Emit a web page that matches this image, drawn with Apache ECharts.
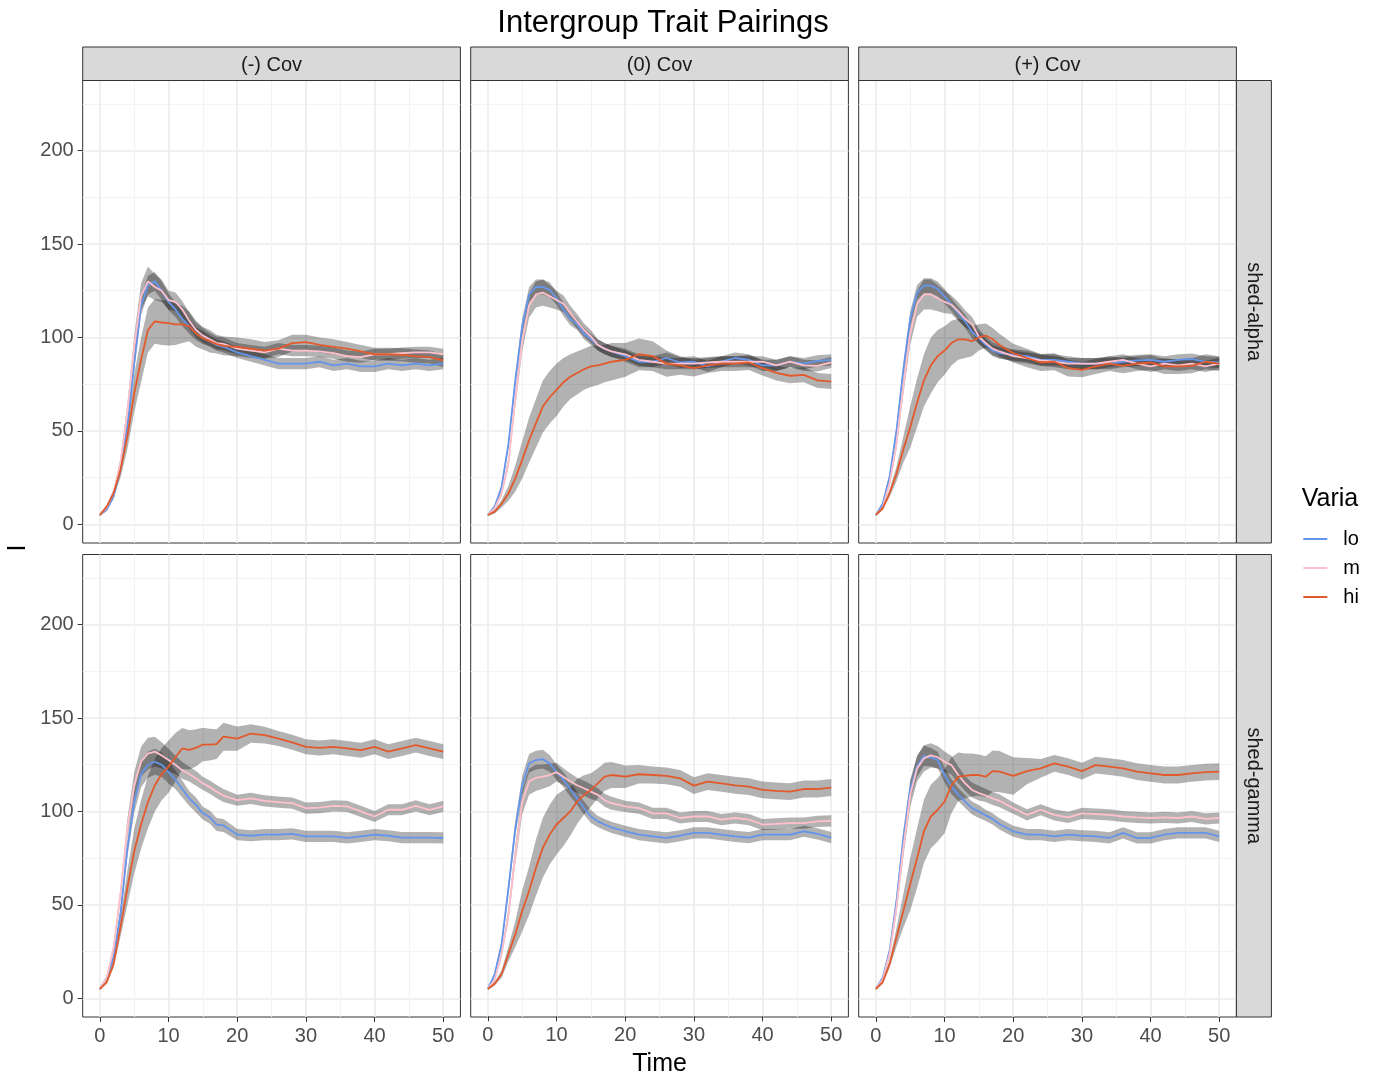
<!DOCTYPE html>
<html>
<head>
<meta charset="utf-8">
<script src="https://cdn.jsdelivr.net/npm/echarts@6/dist/echarts.min.js"></script>
<style>
  html, body { margin: 0; padding: 0; background: #fff; }
  #chart { width: 1374px; height: 1073px; }
</style>
</head>
<body>
<div id="chart"></div>
<script>
// time steps (every step early, every second step later)
const times = [0,1,2,3,4,5,6,7,8,9,10,11,12,13,14,15,16,17,18,20,22,24,26,28,30,32,34,36,38,40,42,44,46,48,50];

const colLabels = ["(-) Cov", "(0) Cov", "(+) Cov"];
const rowLabels = ["shed-alpha", "shed-gamma"];
const levels = ["lo", "m", "hi"];
const xTicks = [0, 10, 20, 30, 40, 50];
const yTicks = [0, 50, 100, 150, 200];

// shed-alpha, (-) Cov
const negAlphaLo  = [5,8,15,29,52,86,117,128,130,125,119,115,110,106,102,100,98,96,95, 92,90,88,86,86,86,87,85,86,84.5,84.5,86,85,86,85,86];
const negAlphaMed = [5,9,17,33,60,95,122,130,127,125,120,119,115,109,104,101,99,97,96.6, 94,93,92,94,93,93,92.5,91.6,90,89.5,91,91,91.6,92,92,91];
const negAlphaHi  = [5,9.5,16.6,29,47,70,88,104,108.6,108,107.7,107,107,106,102,99.6,98,96.4,95.5, 95,94,93,94,97,97.5,96,95,94,92.5,91,91,90.7,90,89.5,87.7];
const negAlphaLoSe  = [0.5,1,1.5,2,3,4,5,5,5,5,4.5,4,4,4,3.5,3.5,3,3,3, 3,3,3,3,3,3,3,3,3,3,3,3,3,3,3,3];
const negAlphaMedSe = [0.5,1,1.5,2.5,4,6,7,8,7,6,5,5,4.5,4.5,4,4,3.5,3.5,3.5, 3,3,3,3,3,3,3,3,3,3,3,3,3,3,3,3];
const negAlphaHiSe  = [0.5,1,2,4,7,10,12,12,12,12,12,11,10,8,7,6,6,5,5, 5,5,4.5,4.5,4.5,4,4,4,3.5,3.5,3.5,3.5,3.5,3.5,3.5,3.5];

// shed-alpha, (0) Cov
const zeroAlphaLo  = [5,9.5,20,43,77,106,123,127,127,125.5,121,115,110,107,102,99,96,94,92.5, 90,87,87,89,86.6,87,84.5,87,89,88,85,85,87,86,87.5,88];
const zeroAlphaMed = [5,8.5,16.6,33,67,98,117,123,124,122,120,118,113,108.6,104,100.5,96,94,92.5, 91,88,87,86,86,86,86.6,87,87,87,87,85,87,85,84.8,86.6];
const zeroAlphaHi  = [5,6.8,11,16.6,24.6,34.5,45,54,63,68,72,76,79,81,83,84.5,85,86,87, 88,91,90,86,85,83.6,85,86,86,86.6,83.6,81,79.5,80,77,76.4];
const zeroAlphaLoSe  = [0.5,1,1.5,2,3,4,4,4,4,4,3.5,3.5,3.5,3,3,3,3,3,3, 3,3,3,3,3,3,3,3,3,3,3,3,3,3,3,3];
const zeroAlphaMedSe = [0.5,1,1.5,2.5,4,5.5,6.5,7,7,6,5,4.5,4,4,3.5,3.5,3,3,3, 3,3,3,3,3,3,3,3,3,3,3,3,3,3,3,3];
const zeroAlphaHiSe  = [0.5,1,2,4,7,10,12,13,14,14,14,13,12,11.5,11,11,10.5,10,10, 9,8.5,8,7,5,4.5,4,4,4,4,4,4,4,4,4,4];

// shed-alpha, (+) Cov
const posAlphaLo  = [5,11,25.5,50,82.7,110,124,127.7,127.7,126,122,117.5,113,108.6,103,99.6,96,93,91.6, 90.7,90,88,88,87,86,86,86,87,87.7,88,87,88,88.4,87,86.6];
const posAlphaMed = [5,9,22,43,74,102,118,123,123,121,119,117.5,114,110,107,100.5,97,94,92.5, 90,89,87.7,87,86,86,86,87,88,86,84.5,86,85,86,84.5,86];
const posAlphaHi  = [5,8.6,16.6,27,40,52,65,77,85,90,93,97,99,99,98,100,101,99,96, 91.6,89,86.6,87,83.6,82.7,84.5,86,84.8,86,86.6,84.5,84.5,84.8,87,86];
const posAlphaLoSe  = [0.5,1,1.5,2.5,3.5,4,4,4,4,4,4,3.5,3.5,3.5,3.5,3,3,3,3, 3,3,3,3,3,3,3,3,3,3,3,3,3,3,3,3];
const posAlphaMedSe = [0.5,1,1.5,3,4.5,6,7,8,8,7,6,5,5,4.5,4,4,3.5,3.5,3.5, 3,3,3,3,3,3,3,3,3,3,3,3,3,3,3,3];
const posAlphaHiSe  = [0.5,1,2,4,7,11,13,14,15,14,13,12,11,10,8,7,6.5,6,6, 5,5,4.5,4.5,4.5,4,4,4,4,4,4,4,4,4,4,4];

// shed-gamma, (-) Cov
const negGammaLo  = [5,11,22,45,80,105,120,125,126.6,125,121,117,112,107,103.5,99,97,93,92.5, 87.6,87,87.6,87.6,88,86.7,86.7,86.7,85.8,86.7,87.6,87,86,86,86,85.8];
const negGammaMed = [5,11,27,55.7,91,114,126.6,131,132,130,127.5,125,122,120,117.7,115,113,110.6,108.5, 106,107,105.7,105,104.4,101.8,102,103,102.7,100,97.3,100.9,100.9,103,100.9,102.7];
const negGammaHi  = [5,8.7,18.4,38,59,78.7,93,105,114,120,124,129,133.7,133,134,135.8,135.8,136,140, 139,141.7,140.8,139,137,134.6,134,134.6,133.7,132.8,134.6,132,133.7,135.5,133.7,132];
const negGammaLoSe  = [0.5,1,2,3,4.5,6,7,7,7,6.5,6,5,4.5,4,4,3.5,3.5,3.5,3.5, 3,3,3,3,3,3,3,3,3,3,3,3,3,3,3,3];
const negGammaMedSe = [0.5,1,2,3.5,5,7,8,8.5,8,7,6,5,4.5,4,4,3.5,3.5,3.5,3.5, 3,3,3,3,3,3,3,3,3,3,3,3,3,3,3,3];
const negGammaHiSe  = [0.5,1,2,5,9,12,13,14,14,14,14,13,11,10.5,10,9,8.5,8,7.5, 6.5,5,4.5,4,4,4,4,4,4,4,4,4,4,4,4,4];

// shed-gamma, (0) Cov
const zeroGammaLo  = [5,13,29,59,91,114,125.7,127.5,128,125.7,121,117,112,107,101.8,97.3,94.7,93,91.5, 89.4,87.6,86.7,85.8,87,88.5,88.5,87.6,86.7,86,87.6,87.6,87.6,89.4,88,86];
const zeroGammaMed = [5,10,23.8,45,77,105,116,118,118.6,119.5,121,118.6,116,114,112.4,110.6,108.9,106,104.4, 102.7,101.8,99,99,96.5,97.3,97.3,95.6,96.5,95.6,93,93.3,93.8,93.8,94.7,95];
const zeroGammaHi  = [5,7.8,13,23.8,34.4,46.8,57.4,69.9,80.5,87.6,93,96.5,100,105.3,108.9,111.5,115,118.6,119.5, 118.6,119.9,119.5,119,117.7,113.8,116,115,114,113.3,111.5,111,110.6,112,112,112.8];
const zeroGammaLoSe  = [0.5,1,2,3,4,5,5,5,5,4.5,4,4,4,3.5,3.5,3.5,3,3,3, 3,3,3,3,3,3,3,3,3,3,3,3,3,3,3,3];
const zeroGammaMedSe = [0.5,1,2,3.5,5,6.5,7,7,6.5,6,5,4.5,4.5,4,4,4,3.5,3.5,3.5, 3,3,3,3,3,3,3,3,3,3,3,3,3,3,3,3];
const zeroGammaHiSe  = [0.5,1,2,4,7,11,13,15,16,16,16,15,13,12,10.5,9,8,7.5,7, 6,5,4.5,4.5,4.5,4.5,4.5,4.5,4.5,4.5,4.5,4.5,4.5,4.5,4.5,4.5];

// shed-gamma, (+) Cov
const posGammaLo  = [5,11,25.5,52,85.8,112,124,129.8,129,127.5,119.5,113.3,109,105.3,101.8,100,97.9,96,93.3, 89.4,87.6,87.6,86.7,87.6,87,86.7,85.8,88.5,85.8,85.8,87.6,88.5,88.5,88.5,86.7];
const posGammaMed = [5,10,23.8,48.6,80.5,108.9,123,128.4,130,129,126.6,124.8,119.5,115,111.5,109.8,108.5,107,105.7, 101.8,98.2,100.9,98.2,96.8,99,98.6,98.2,97.3,96.8,96.5,96.8,96.5,97.3,96,96.5];
const posGammaHi  = [5,8.7,18.4,32.6,46.8,61,75,89.4,97.3,100.9,105.3,114,118.6,119,119.5,119.5,118.6,121.6,121.3, 119,121.6,123,125.7,124,121.6,124.8,124,123,121.3,120.4,119.5,119.5,120.4,121,121.3];
const posGammaLoSe  = [0.5,1,2,3,4,5,5.5,5.5,5,4.5,4,4,3.5,3.5,3.5,3.5,3,3,3, 3,3,3,3,3,3,3,3,3,3,3,3,3,3,3,3];
const posGammaMedSe = [0.5,1,2,3.5,5,6.5,7,7,6.5,6,5.5,5,4.5,4,4,4,3.5,3.5,3.5, 3,3,3,3,3,3,3,3,3,3,3,3,3,3,3,3];
const posGammaHiSe  = [0.5,1,2,5,9,14,16,17,17,17,17,15,13,12,11.5,11,11,11,11, 10,7,5,4.5,4.5,4.5,4.5,4.5,4.5,4.5,4.5,4.5,4.5,4.5,4.5,4.5];

// panels in row-major order: [means lo/m/hi], [half widths lo/m/hi]
const panels = [
  { means: [negAlphaLo, negAlphaMed, negAlphaHi], se: [negAlphaLoSe, negAlphaMedSe, negAlphaHiSe] },
  { means: [zeroAlphaLo, zeroAlphaMed, zeroAlphaHi], se: [zeroAlphaLoSe, zeroAlphaMedSe, zeroAlphaHiSe] },
  { means: [posAlphaLo, posAlphaMed, posAlphaHi], se: [posAlphaLoSe, posAlphaMedSe, posAlphaHiSe] },
  { means: [negGammaLo, negGammaMed, negGammaHi], se: [negGammaLoSe, negGammaMedSe, negGammaHiSe] },
  { means: [zeroGammaLo, zeroGammaMed, zeroGammaHi], se: [zeroGammaLoSe, zeroGammaMedSe, zeroGammaHiSe] },
  { means: [posGammaLo, posGammaMed, posGammaHi], se: [posGammaLoSe, posGammaMedSe, posGammaHiSe] }
];

const lineColors = ["#6495ED", "#FFC0CB", "#E25A2B"];
const FONT = "'Liberation Sans', Arial, sans-serif";

// layout
const colLeft = [82.7, 470.7, 858.7];
const panelW = 377.7;
const rowTop = [80.5, 554.5];
const panelH = 462.5;
const X_MIN = -2.5, X_MAX = 52.5;
const Y_MIN = -10, Y_MAX = 237.5;
const pxX = panelW / (X_MAX - X_MIN);
const pxY = panelH / (Y_MAX - Y_MIN);

const T = "rgba(0,0,0,0)";
const MAJ = "#ebebeb", MIN = "#f3f3f3";

const grid = [], xAxis = [], yAxis = [], series = [];

function gridAxisX(gi, colors, width, pos) {
  return {
    type: "value", gridIndex: gi, position: pos, min: X_MIN, max: X_MAX, interval: 2.5,
    axisLine: { show: false }, axisTick: { show: false }, axisLabel: { show: false },
    splitLine: { show: true, lineStyle: { color: colors, width: width } }
  };
}
function gridAxisY(gi, colors, width, pos) {
  return {
    type: "value", gridIndex: gi, position: pos, min: Y_MIN, max: Y_MAX, interval: 5,
    axisLine: { show: false }, axisTick: { show: false }, axisLabel: { show: false },
    splitLine: { show: true, lineStyle: { color: colors, width: width } }
  };
}

panels.forEach((p, pi) => {
  const r = Math.floor(pi / 3), c = pi % 3;
  grid.push({
    left: colLeft[c], top: rowTop[r], width: panelW, height: panelH,
    show: true, backgroundColor: "#fff", borderColor: "#333", borderWidth: 1
  });
  const xi = xAxis.length, yi = yAxis.length;
  // x: ticks every 2.5 from -2.5 -> major at 0,10,.. ; minor at 5,15,..
  xAxis.push(gridAxisX(pi, [T, MAJ, T, T], 1.6, "bottom"));
  xAxis.push(gridAxisX(pi, [T, T, T, MIN], 1, "top"));
  // y: ticks every 5 from -10 -> major at 0,50,.. ; minor at 25,75,..
  yAxis.push(gridAxisY(pi, [T, T, MAJ, T, T, T, T, T, T, T], 1.6, "left"));
  yAxis.push(gridAxisY(pi, [T, T, T, T, T, T, T, MIN, T, T], 1, "right"));

  p.means.forEach((vals, k) => {
    const rows = times.map((t, i) => [t, vals[i] - p.se[k][i], vals[i] + p.se[k][i]]);
    series.push({
      type: "custom", xAxisIndex: xi, yAxisIndex: yi, z: 2, silent: true,
      data: rows, encode: { x: 0, y: [1, 2] },
      renderItem: (params, api) => {
        if (params.dataIndex !== 0) return null;
        const up = rows.map(d => api.coord([d[0], d[2]]));
        const dn = rows.map(d => api.coord([d[0], d[1]])).reverse();
        return { type: "polygon", shape: { points: up.concat(dn) }, style: { fill: "rgba(0,0,0,0.3)" } };
      }
    });
  });
  p.means.forEach((vals, k) => {
    series.push({
      type: "line", name: levels[k], xAxisIndex: xi, yAxisIndex: yi, z: 3, silent: true,
      data: times.map((t, i) => [t, vals[i]]),
      showSymbol: false, symbol: "none",
      lineStyle: { color: lineColors[k], width: 1.8 }, itemStyle: { color: lineColors[k] }
    });
  });
});

// tick-label axes for the bottom row
for (let c = 0; c < 3; c++) {
  const gi = grid.length;
  grid.push({ left: colLeft[c] + (0 - X_MIN) * pxX, width: 50 * pxX, top: rowTop[1] + panelH - 1, height: 1 });
  xAxis.push({
    type: "value", gridIndex: gi, position: "bottom", min: 0, max: 50, interval: 10,
    axisLine: { show: false },
    axisTick: { show: true, length: 5, lineStyle: { color: "#333", width: 1 } },
    axisLabel: { show: true, margin: 9, fontSize: 20, color: "#4d4d4d", fontFamily: FONT,
      customValues: xTicks },
    splitLine: { show: false },
    name: c === 1 ? "Time" : "", nameLocation: "middle", nameGap: 35,
    nameTextStyle: { fontSize: 25, color: "#000", fontFamily: FONT }
  });
  yAxis.push({ type: "value", gridIndex: gi, show: false, min: 0, max: 1 });
}
// tick-label axes for the left column
for (let r = 0; r < 2; r++) {
  const gi = grid.length;
  grid.push({ left: colLeft[0], width: 1, top: rowTop[r] + (Y_MAX - 200) * pxY, height: 200 * pxY });
  xAxis.push({ type: "value", gridIndex: gi, show: false, min: 0, max: 1 });
  yAxis.push({
    type: "value", gridIndex: gi, position: "left", min: 0, max: 200, interval: 50,
    axisLine: { show: false },
    axisTick: { show: true, length: 5, lineStyle: { color: "#333", width: 1 } },
    axisLabel: { show: true, margin: 9, fontSize: 20, color: "#4d4d4d", fontFamily: FONT,
      customValues: yTicks },
    splitLine: { show: false }
  });
}

function txt(x, y, text, size, color, rot, align) {
  return {
    type: "text", x: x, y: y, rotation: rot || 0, z: 50,
    style: { text: text, fill: color, font: size + "px " + FONT,
      textAlign: align || "center", align: align || "center",
      textVerticalAlign: "middle", verticalAlign: "middle" }
  };
}

const graphic = [];
// strips on top
colLabels.forEach((lab, c) => {
  graphic.push({ type: "rect", z: 40, shape: { x: colLeft[c], y: 47, width: panelW, height: rowTop[0] - 47 },
    style: { fill: "#d9d9d9", stroke: "#333", lineWidth: 1 } });
  graphic.push(txt(colLeft[c] + panelW / 2, 65.5, lab, 20, "#1a1a1a"));
});
// strips on the right
const stripX = colLeft[2] + panelW;
rowLabels.forEach((lab, r) => {
  graphic.push({ type: "rect", z: 40, shape: { x: stripX, y: rowTop[r], width: 35, height: panelH },
    style: { fill: "#d9d9d9", stroke: "#333", lineWidth: 1 } });
  graphic.push(txt(stripX + 17, rowTop[r] + panelH / 2, lab, 20, "#1a1a1a", -Math.PI / 2));
});
// y axis title
graphic.push(txt(18, 548, "I", 25, "#000", Math.PI / 2));
// legend (clipped at the right edge in the original)
graphic.push(txt(1301.7, 499.5, "Varia", 25, "#000", 0, "left"));
const legendY = [539, 568, 597];
["lo", "m", "hi"].forEach((lab, k) => {
  graphic.push({ type: "line", z: 50, shape: { x1: 1303.3, y1: legendY[k], x2: 1327.3, y2: legendY[k] },
    style: { stroke: lineColors[k], lineWidth: 2 } });
  graphic.push(txt(1343.3, legendY[k], lab, 20, "#000", 0, "left"));
});

const chart = echarts.init(document.getElementById("chart"), null, { renderer: "canvas" });
chart.setOption({
  backgroundColor: "#fff",
  animation: false,
  title: {
    text: "Intergroup Trait Pairings", left: 658, top: 3, textAlign: "center",
    textStyle: { fontSize: 31, fontWeight: "normal", color: "#000", fontFamily: FONT }
  },
  grid: grid,
  xAxis: xAxis,
  yAxis: yAxis,
  series: series,
  graphic: graphic
});
</script>
</body>
</html>
